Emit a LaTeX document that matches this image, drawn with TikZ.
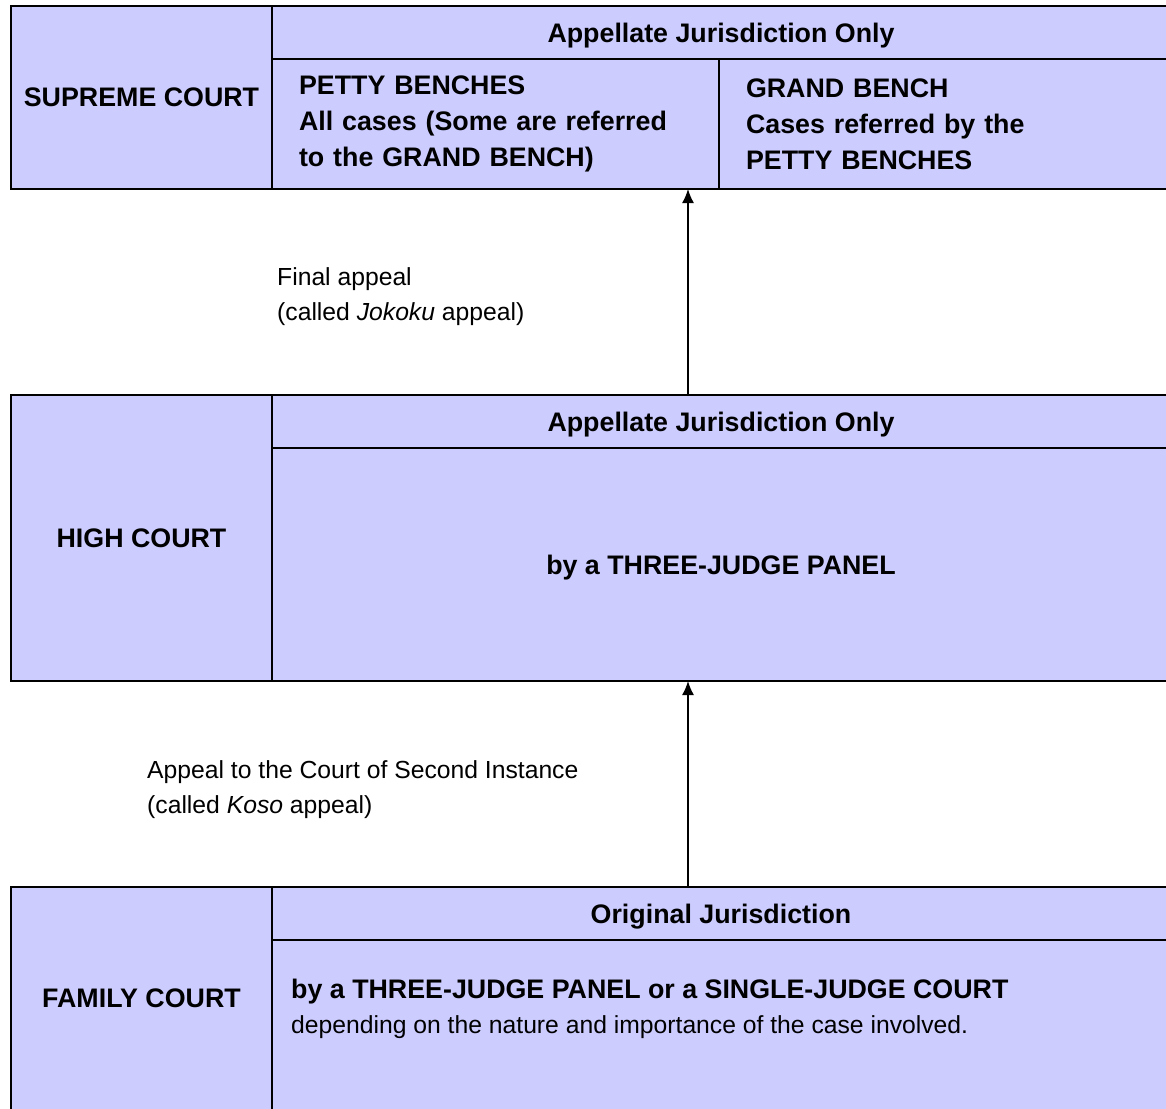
\documentclass[tikz,border=0pt]{standalone}
\usepackage{fontspec}
\setmainfont{Liberation Sans}
\usetikzlibrary{arrows.meta}
\definecolor{courtfill}{RGB}{204,204,255}
\tikzset{
	cell/.style = {draw=black, line width=2pt, fill=courtfill, rectangle, inner sep=0pt, outer sep=0pt, text depth=0pt, anchor=north west, font=\fontsize{26.8}{36}\selectfont\bfseries},
	benchcell/.style = {cell, text depth=, inner xsep=27pt, align=left},
	plaintext/.style = {inner sep=0pt, align=left, font=\fontsize{24.7}{35}\selectfont},
	appeal/.style = {black, line width=1.5pt, -{Latex[length=14pt,width=12pt]}}
}
\begin{document}
\begin{tikzpicture}[x=1pt,y=-1pt]
		\useasboundingbox (0,0) rectangle (1166,1108);
		\clip (0,0) rectangle (1166,1108);
		\node[cell, minimum width=261, minimum height=183] (supreme) at (11,6) {SUPREME COURT};
		\node[cell, minimum width=898, minimum height=53] (suphead) at (272,6) {Appellate Jurisdiction Only};
		\node[benchcell, text width=393, minimum height=130] (petty) at (272,59) {PETTY BENCHES\\All cases (Some are referred\\to the GRAND BENCH)};
		\node[benchcell, text width=397, minimum height=130] (grand) at (719,59) {GRAND BENCH\\Cases referred by the\\PETTY BENCHES};
		\node[cell, minimum width=261, minimum height=286] (high) at (11,395) {HIGH COURT};
		\node[cell, minimum width=898, minimum height=53] (highhead) at (272,395) {Appellate Jurisdiction Only};
		\node[cell, minimum width=898, minimum height=233] (highpanel) at (272,448) {by a THREE-JUDGE PANEL};
		\node[cell, minimum width=261, minimum height=223] (family) at (11,887) {FAMILY COURT};
		\node[cell, minimum width=898, minimum height=53] (famhead) at (272,887) {Original Jurisdiction};
		\node[cell, minimum width=898, minimum height=170] (fampanel) at (272,940) {};
		\node[plaintext, anchor=west] (famtext) at (291,1009) {\textbf{\fontsize{26.8}{35}\selectfont by a THREE-JUDGE PANEL or a SINGLE-JUDGE COURT}\\depending on the nature and importance of the case involved.};
		\coordinate (axis) at (688,0);
		\draw[appeal] (highhead.north -| axis) -- (petty.south -| axis);
		\draw[appeal] (famhead.north -| axis) -- (highpanel.south -| axis);
		\node[plaintext, anchor=west] (jokoku) at (277,297) {Final appeal\\(called \textit{Jokoku} appeal)};
		\node[plaintext, anchor=west] (koso) at (147,790) {Appeal to the Court of Second Instance\\(called \textit{Koso} appeal)};
	\end{tikzpicture}
\end{document}
